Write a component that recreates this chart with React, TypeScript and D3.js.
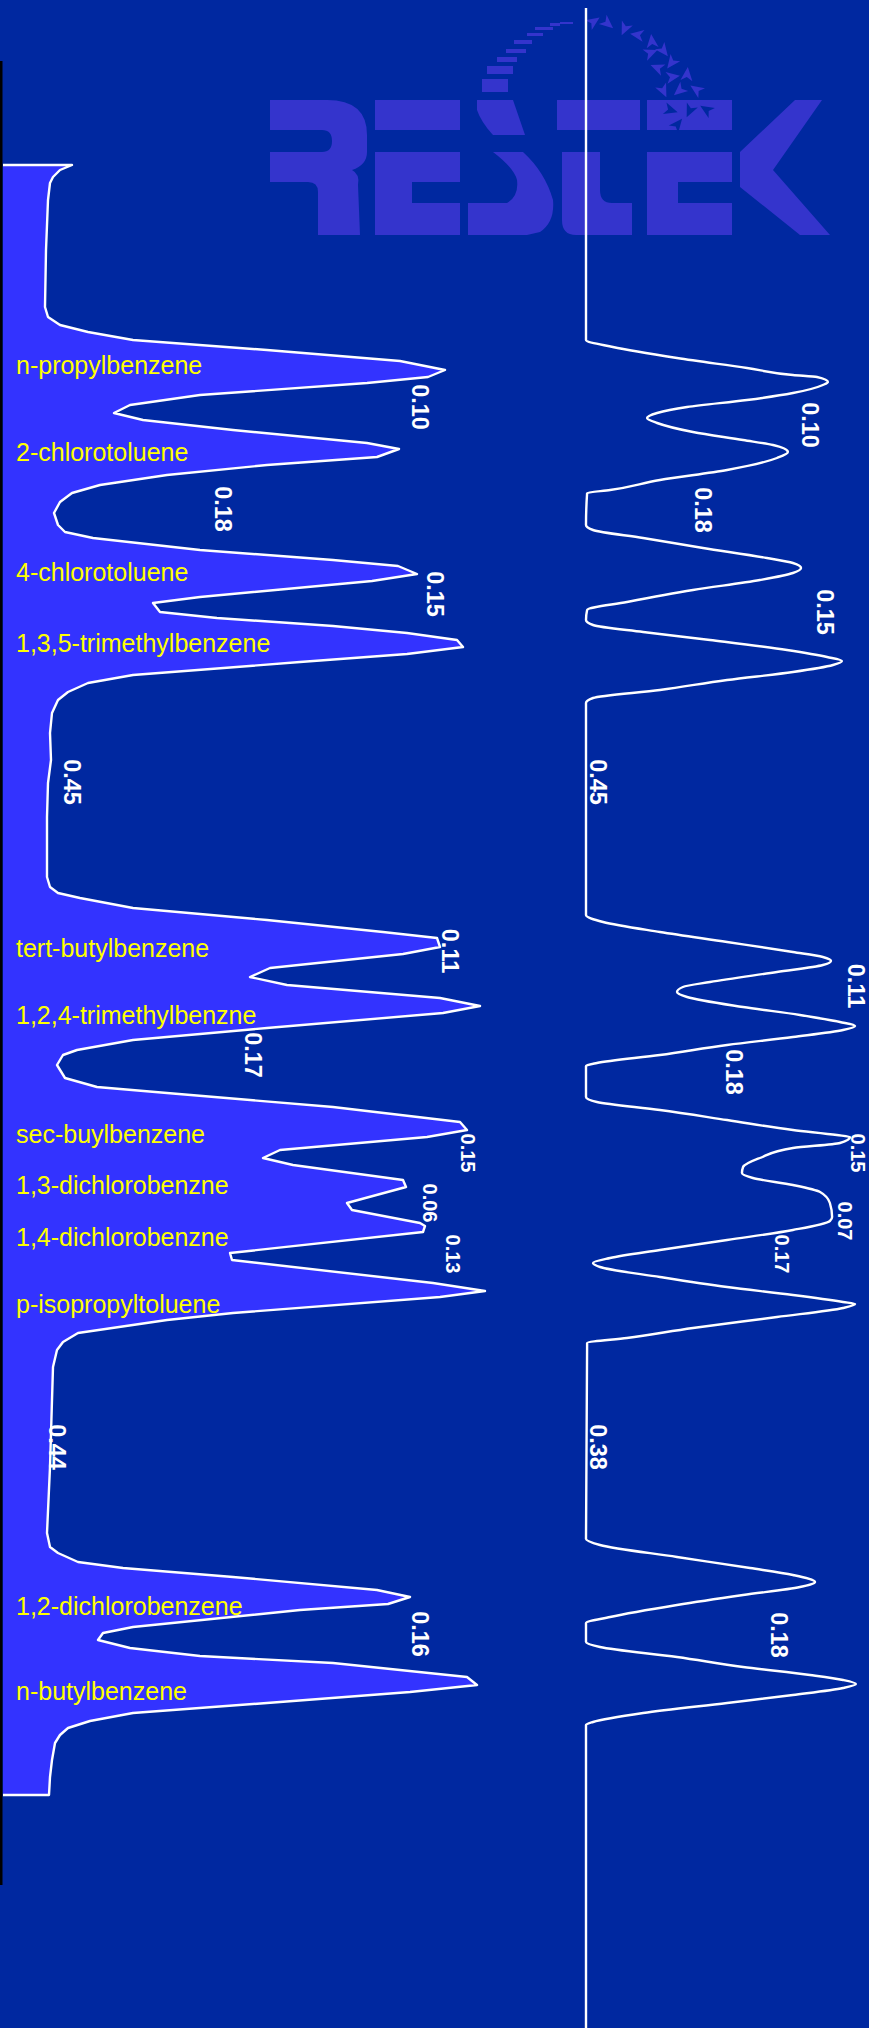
import React from 'react';
import * as d3 from 'd3';

const WIDTH = 869;
const HEIGHT = 2028;

// Left chromatogram: [retention time (min), detector signal (% full scale)]
const leftTrace: [number, number][] = [
  [1.65, 0], [1.65, 13.8], [1.70, 11.4], [1.77, 10.0], [1.83, 9.4], [2.00, 9.0], [2.50, 8.6],
  [3.07, 8.4], [3.17, 9.0], [3.25, 11.4], [3.32, 17.0], [3.40, 26.0], [3.50, 52.8], [3.61, 79.4],
  [3.70, 88.4], [3.77, 85.0], [3.83, 72.8], [3.95, 39.4], [4.05, 25.4], [4.13, 22.2], [4.20, 28.0],
  [4.30, 46.0], [4.43, 72.8], [4.49, 79.2], [4.57, 74.8], [4.65, 52.8], [4.75, 32.8], [4.85, 19.4],
  [4.93, 13.8], [5.02, 11.4], [5.13, 10.2], [5.25, 11.0], [5.32, 12.4], [5.38, 18.0], [5.50, 39.4],
  [5.60, 66.0], [5.66, 79.0], [5.74, 82.8], [5.81, 73.8], [5.97, 39.4], [6.03, 30.0], [6.12, 31.4],
  [6.18, 42.8], [6.26, 66.0], [6.33, 80.8], [6.40, 90.8], [6.47, 92.0], [6.54, 80.8], [6.62, 59.4],
  [6.75, 26.0], [6.83, 17.0], [6.92, 13.0], [7.00, 11.0], [7.13, 9.8], [7.33, 9.4], [7.60, 9.6],
  [7.83, 9.0], [8.17, 8.8], [8.77, 8.8], [8.87, 9.4], [8.93, 11.0], [8.98, 15.4], [9.08, 26.0],
  [9.20, 52.8], [9.32, 76.0], [9.38, 86.8], [9.47, 87.4], [9.54, 80.0], [9.68, 53.4], [9.77, 49.4],
  [9.85, 56.8], [9.98, 87.4], [10.06, 95.4], [10.13, 88.0], [10.28, 52.8], [10.40, 26.0],
  [10.50, 14.8], [10.55, 12.0], [10.65, 10.8], [10.78, 12.4], [10.87, 18.8], [10.93, 32.8],
  [11.07, 66.0], [11.22, 91.4], [11.30, 92.8], [11.37, 84.8], [11.50, 55.4], [11.58, 52.0],
  [11.65, 58.0], [11.80, 80.0], [11.87, 80.6], [12.03, 68.8], [12.10, 69.8], [12.23, 83.4],
  [12.26, 84.4], [12.32, 84.0], [12.53, 45.4], [12.60, 45.8], [12.83, 86.0], [12.91, 96.4],
  [12.97, 87.4], [13.13, 46.0], [13.20, 32.8], [13.33, 15.0], [13.42, 12.0], [13.50, 10.8],
  [13.67, 10.0], [14.00, 9.8], [14.67, 9.4], [15.33, 8.8], [15.47, 9.4], [15.53, 11.0],
  [15.62, 15.0], [15.68, 24.0], [15.77, 46.0], [15.90, 74.8], [15.97, 81.4], [16.04, 77.0],
  [16.10, 59.4], [16.27, 26.0], [16.33, 20.0], [16.40, 19.0], [16.48, 25.4], [16.56, 39.4],
  [16.63, 66.0], [16.77, 92.8], [16.85, 94.8], [16.92, 81.4], [17.03, 52.8], [17.13, 26.0],
  [17.21, 17.4], [17.28, 13.0], [17.35, 11.4], [17.43, 10.4], [17.60, 9.8], [17.77, 9.4],
  [17.95, 9.2], [17.95, 0],
];

// Right chromatogram: [retention time (min), detector signal (% full scale)]
const rightTrace: [number, number][] = [
  [0.08, 0], [3.40, 0], [3.47, 9.6], [3.58, 32.5], [3.68, 57.5], [3.75, 73.9], [3.77, 82.5],
  [3.82, 86.4], [3.85, 84.6], [3.93, 73.9], [4.00, 57.5], [4.07, 36.1], [4.13, 25.4], [4.18, 21.8],
  [4.23, 25.4], [4.32, 38.2], [4.40, 56.1], [4.45, 66.8], [4.52, 72.1], [4.58, 68.2], [4.70, 50.4],
  [4.80, 26.4], [4.90, 8.6], [4.93, 0.4], [5.25, 0], [5.30, 2.5], [5.38, 20.4], [5.48, 41.8],
  [5.58, 64.6], [5.63, 73.9], [5.68, 76.8], [5.73, 73.9], [5.80, 62.1], [5.90, 38.2], [6.02, 14.6],
  [6.10, 0.4], [6.20, 0], [6.25, 2.5], [6.32, 20.4], [6.40, 44.3], [6.50, 71.8], [6.57, 86.1],
  [6.61, 91.4], [6.65, 88.2], [6.72, 73.9], [6.80, 50.4], [6.90, 26.4], [6.98, 2.5], [7.03, 0],
  [9.15, 0], [9.22, 6.1], [9.32, 26.4], [9.42, 50.4], [9.52, 73.9], [9.57, 84.6], [9.61, 87.5],
  [9.65, 84.6], [9.72, 68.2], [9.82, 44.3], [9.87, 34.6], [9.92, 32.5], [9.97, 36.1], [10.07, 56.1],
  [10.15, 76.4], [10.22, 90.7], [10.26, 96.1], [10.30, 91.8], [10.37, 73.9], [10.45, 50.4],
  [10.55, 26.4], [10.63, 3.9], [10.66, 0], [10.97, 0], [11.02, 3.9], [11.10, 26.4], [11.20, 50.4],
  [11.30, 73.9], [11.35, 89.6], [11.37, 94.3], [11.43, 90.7], [11.48, 73.9], [11.58, 62.1],
  [11.67, 56.1], [11.73, 55.7], [11.78, 59.6], [11.85, 73.9], [11.92, 83.6], [12.03, 87.1],
  [12.17, 87.9], [12.21, 87.1], [12.30, 73.9], [12.40, 50.4], [12.50, 26.4], [12.58, 8.6],
  [12.63, 2.5], [12.67, 5.0], [12.77, 26.4], [12.87, 50.4], [12.95, 73.9], [13.02, 91.8],
  [13.04, 96.1], [13.08, 91.8], [13.17, 68.2], [13.28, 38.2], [13.38, 14.6], [13.43, 0.4],
  [15.39, 0], [15.45, 5.0], [15.57, 32.5], [15.68, 58.6], [15.75, 73.9], [15.82, 81.8],
  [15.87, 76.4], [15.95, 56.1], [16.05, 32.5], [16.17, 8.6], [16.23, 0], [16.42, 0], [16.47, 5.0],
  [16.57, 32.5], [16.67, 56.1], [16.75, 80.0], [16.80, 91.8], [16.84, 96.4], [16.88, 91.8],
  [16.95, 73.9], [17.03, 50.4], [17.13, 20.4], [17.22, 2.5], [17.25, 0], [20.28, 0],
];

// Compound names and the retention time each label sits at
const compoundNames = [
  'n-propylbenzene', '2-chlorotoluene', '4-chlorotoluene', '1,3,5-trimethylbenzene',
  'tert-butylbenzene', '1,2,4-trimethylbenzne', 'sec-buylbenzene', '1,3-dichlorobenzne',
  '1,4-dichlorobenzne', 'p-isopropyltoluene', '1,2-dichlorobenzene', 'n-butylbenzene',
];
const compoundTimes = [3.74, 4.61, 5.81, 6.52, 9.57, 10.24, 11.43, 11.94, 12.46, 13.13, 16.15, 17.0];

// Peak-width annotations: value, retention time, signal level
const leftWidths: [string, number, number][] = [
  ['0.10', 4.07, 83.4], ['0.18', 5.09, 44.0], ['0.15', 5.94, 86.4], ['0.45', 7.82, 13.8],
  ['0.11', 9.51, 89.4], ['0.17', 10.55, 50.0], ['0.15', 11.53, 93.0], ['0.06', 12.03, 85.4],
  ['0.13', 12.54, 90.0], ['0.44', 14.47, 10.8], ['0.16', 16.34, 83.4],
];
const rightWidths: [string, number, number][] = [
  ['0.10', 4.25, 80.0], ['0.18', 5.10, 41.8], ['0.15', 6.12, 85.4], ['0.45', 7.82, 4.3],
  ['0.11', 9.86, 96.4], ['0.18', 10.72, 52.9], ['0.15', 11.53, 97.1], ['0.07', 12.21, 92.5],
  ['0.17', 12.54, 70.0], ['0.38', 14.47, 4.3], ['0.18', 16.35, 68.9],
];

const BG = '#0028A0';
const FILL = '#3333FF';
const LOGO = '#3434CC';
const FONT = "Arial, 'Liberation Sans', sans-serif";

const timeScale = d3.scaleLinear().domain([0, 20.28]).range([0, HEIGHT]);
const leftSignal = d3.scaleLinear().domain([0, 100]).range([3, 503]);
const rightSignal = d3.scaleLinear().domain([0, 100]).range([586, 866]);

// Labels crowded together in time get a smaller font
function widthFontSizes(rows: [string, number, number][]) {
  return rows.map((r, i) => {
    const gaps = rows.filter((_, j) => j !== i).map((o) => Math.abs(o[1] - r[1]));
    return Math.min(...gaps) < 0.75 ? 20 : 23.5;
  });
}

// Small swept arrowhead used in the logo's arc
function arrowhead(cx: number, cy: number, r: number, angle: number) {
  const base: [number, number][] = [
    [r, 0], [-r * 0.7, r * 0.75], [-r * 0.25, 0], [-r * 0.7, -r * 0.75],
  ];
  const c = Math.cos(angle);
  const s = Math.sin(angle);
  return (
    'M' +
    base.map(([x, y]) => `${cx + x * c - y * s},${cy + x * s + y * c}`).join('L') +
    'Z'
  );
}

const lightStars: [number, number][] = [
  [593, 22], [607, 23], [625, 28], [638, 35], [652, 42], [650, 53], [663, 50], [672, 62],
  [658, 68], [687, 75], [672, 77], [663, 90], [680, 90], [697, 90],
];
const darkStars: [number, number][] = [[670, 110], [690, 110], [707, 110], [677, 125]];
const arcDashes: [number, number, number, number][] = [
  [482, 79, 26, 13], [487, 66, 26, 8], [497, 57, 20, 5], [506, 49, 20, 4], [514, 40, 18, 4],
  [527, 33, 16, 3], [535, 27, 18, 3], [550, 23, 10, 3], [560, 22, 13, 2],
];

function Logo() {
  return (
    <g fill={LOGO}>
      {/* R */}
      <path d="M270,100 L327,100 Q367,100 367,135 L367,152 Q367,165 352,170 Q360,174 358,185 L360,235 L318,235 L318,192 Q318,182 308,182 L270,182 L270,152 L322,152 Q332,152 332,141 Q332,130 322,130 L270,130 Z" />
      {/* E */}
      <path d="M375,100 H460 V130 H375 Z M375,152 H460 V182 H412 V203 H460 V235 H375 Z" />
      {/* S */}
      <path d="M477,100 L513,100 L525,135 L493,135 Q481,122 477,110 Z" />
      <path d="M493,152 L523,152 Q545,172 553,200 Q555,222 540,232 L527,235 L468,235 L468,203 L507,203 Q519,196 517,180 Q514,168 493,152 Z" />
      {/* T */}
      <path d="M557,100 H640 V130 H557 Z" />
      <path d="M562,152 H600 V190 Q600,203 612,203 H632 V235 H576 Q562,235 562,220 Z" />
      {/* E */}
      <path d="M647,100 H732 V130 H647 Z M647,152 H732 V182 H678 V203 H732 V235 H647 Z" />
      {/* K */}
      <path d="M795,100 L822,100 L773,170 L830,235 L800,235 L740,187 L740,152 Z" />
      {arcDashes.map(([x, y, w, h], i) => (
        <rect key={`d${i}`} x={x} y={y} width={w} height={h} />
      ))}
      {lightStars.map(([x, y], i) => (
        <path key={`s${i}`} d={arrowhead(x, y, 8, -0.6 + i * 1.3)} />
      ))}
      {darkStars.map(([x, y], i) => (
        <path key={`k${i}`} d={arrowhead(x, y, 8, 0.3 + i * 1.7)} fill={BG} />
      ))}
    </g>
  );
}

function WidthLabels({ rows, xs }: { rows: [string, number, number][]; xs: d3.ScaleLinear<number, number> }) {
  const sizes = widthFontSizes(rows);
  return (
    <g fill="#FFFFFF" fontFamily={FONT} fontWeight="bold">
      {rows.map(([v, t, s], i) => (
        <text
          key={i}
          transform={`translate(${xs(s)},${timeScale(t)}) rotate(90)`}
          textAnchor="middle"
          dominantBaseline="central"
          fontSize={sizes[i]}
        >
          {v}
        </text>
      ))}
    </g>
  );
}

export default function App() {
  const leftArea = d3
    .area<[number, number]>()
    .y((d) => timeScale(d[0]))
    .x0(leftSignal(0))
    .x1((d) => leftSignal(d[1]))(leftTrace) as string;
  const leftLine = d3
    .line<[number, number]>()
    .x((d) => leftSignal(d[1]))
    .y((d) => timeScale(d[0]))(leftTrace) as string;
  const rightLine = d3
    .line<[number, number]>()
    .x((d) => rightSignal(d[1]))
    .y((d) => timeScale(d[0]))
    .curve(d3.curveMonotoneY)(rightTrace) as string;

  return (
    <svg
      width={WIDTH}
      height={HEIGHT}
      style={{ position: 'absolute', left: 0, top: 0, display: 'block' }}
    >
      <rect width={WIDTH} height={HEIGHT} fill={BG} />
      <Logo />
      <rect x={0} y={61} width={2.5} height={1824} fill="#000000" />
      <path d={leftArea} fill={FILL} />
      <path d={leftLine} fill="none" stroke="#FFFFFF" strokeWidth={2.4} strokeLinejoin="round" />
      <path d={rightLine} fill="none" stroke="#FFFFFF" strokeWidth={2.4} strokeLinejoin="round" />
      <g fill="#FFFF00" fontFamily={FONT} fontSize={25}>
        {compoundNames.map((n, i) => (
          <text key={n} x={leftSignal(2.6)} y={timeScale(compoundTimes[i])}>
            {n}
          </text>
        ))}
      </g>
      <WidthLabels rows={leftWidths} xs={leftSignal} />
      <WidthLabels rows={rightWidths} xs={rightSignal} />
    </svg>
  );
}
